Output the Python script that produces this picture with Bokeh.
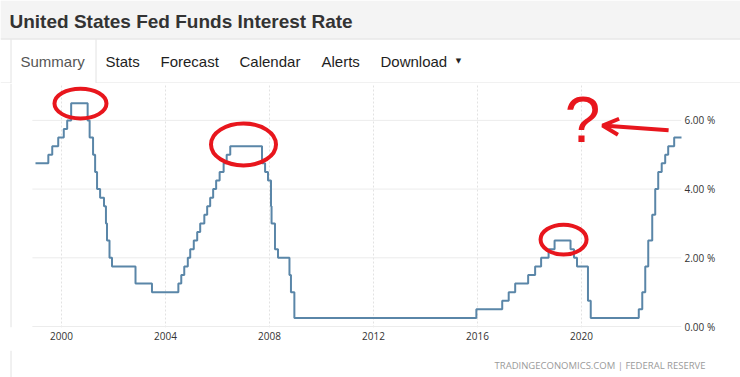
import pandas as pd
from bokeh.plotting import figure
from bokeh.layouts import column
from bokeh.models import (Label, Arrow, OpenHead, FixedTicker, Span,
                          PrintfTickFormatter, Range1d, ColumnDataSource)
from bokeh.embed import file_html
from bokeh.resources import INLINE

# ---------------- data ----------------
change_dates = [
    "1999-01-01", "1999-06-30", "1999-08-24", "1999-11-16", "2000-02-02", "2000-03-21",
    "2000-05-16", "2001-01-03", "2001-01-31", "2001-03-20", "2001-04-18", "2001-05-15",
    "2001-06-27", "2001-08-21", "2001-09-17", "2001-10-02", "2001-11-06", "2001-12-11",
    "2002-11-06", "2003-06-25", "2004-06-30", "2004-08-10", "2004-09-21", "2004-11-10",
    "2004-12-14", "2005-02-02", "2005-03-22", "2005-05-03", "2005-06-30", "2005-08-09",
    "2005-09-20", "2005-11-01", "2005-12-13", "2006-01-31", "2006-03-28", "2006-05-10",
    "2006-06-29", "2007-09-18", "2007-10-31", "2007-12-11", "2008-01-22", "2008-01-30",
    "2008-03-18", "2008-04-30", "2008-10-08", "2008-10-29", "2008-12-16", "2015-12-16",
    "2016-12-14", "2017-03-15", "2017-06-14", "2017-12-13", "2018-03-21", "2018-06-13",
    "2018-09-26", "2018-12-19", "2019-07-31", "2019-09-18", "2019-10-30", "2020-04-01",
    "2020-05-10", "2022-03-16", "2022-05-04", "2022-06-15", "2022-07-27", "2022-09-21",
    "2022-11-02", "2022-12-14", "2023-02-01", "2023-03-22", "2023-05-03", "2023-07-26",
    "2023-11-15",
]
rates = [
    4.75, 5.00, 5.25, 5.50, 5.75, 6.00,
    6.50, 6.00, 5.50, 5.00, 4.50, 4.00,
    3.75, 3.50, 3.00, 2.50, 2.00, 1.75,
    1.25, 1.00, 1.25, 1.50, 1.75, 2.00,
    2.25, 2.50, 2.75, 3.00, 3.25, 3.50,
    3.75, 4.00, 4.25, 4.50, 4.75, 5.00,
    5.25, 4.75, 4.50, 4.25, 3.50, 3.00,
    2.25, 2.00, 1.50, 1.00, 0.25, 0.50,
    0.75, 1.00, 1.25, 1.50, 1.75, 2.00,
    2.25, 2.50, 2.25, 2.00, 1.75, 0.75,
    0.25, 0.50, 1.00, 1.75, 2.50, 3.25,
    4.00, 4.50, 4.75, 5.00, 5.25, 5.50,
    5.50,
]
year_ticks = [2000, 2004, 2008, 2012, 2016, 2020]
rate_ticks = [0, 2, 4, 6]

title_text = "United States Fed Funds Interest Rate"
tab_labels = ["Summary", "Stats", "Forecast", "Calendar", "Alerts", "Download"]
source_text = "TRADINGECONOMICS.COM | FEDERAL RESERVE"

# hand-drawn highlights (data space)
circle_x = [2000.73, 2007.0, 2019.31]
circle_y = [6.49, 5.30, 2.53]
circle_w = [2.0, 2.5, 1.77]
circle_h = [0.87, 1.22, 0.87]

# ---------------- helpers ----------------
def dec_year(s):
    t = pd.Timestamp(s)
    start = pd.Timestamp(t.year, 1, 1)
    end = pd.Timestamp(t.year + 1, 1, 1)
    return t.year + (t - start).days / (end - start).days

xs = [dec_year(d) for d in change_dates]

RED = "#e8161d"
LINE = "#5a86a8"
BORDER = "#e2e2e2"
W = 740


def no_align(f):
    if "frame_align" in f.properties():
        f.frame_align = False
    return f


def bare(h):
    f = figure(width=W, height=h, output_backend="svg", toolbar_location=None,
               x_range=Range1d(0, W), y_range=Range1d(h, 0),
               x_axis_type=None, y_axis_type=None,
               min_border=0, min_border_left=0, min_border_right=0,
               min_border_top=0, min_border_bottom=0)
    f.outline_line_color = None
    f.background_fill_color = "white"
    f.border_fill_color = "white"
    return no_align(f)

# ---------------- header ----------------
H1 = 83
hdr = bare(H1)
hdr.quad(left=[0], right=[W], top=[0], bottom=[39], fill_color="#f4f4f4", line_color=None)
hdr.segment(x0=[0, 10.5, 95.5, 0, 95.5], y0=[38.5, 39, 39, 82.5, 82.5],
            x1=[W, 10.5, 95.5, 10.5, W], y1=[38.5, H1, 82.5, 82.5, 82.5],
            line_color=BORDER, line_width=1)
hdr.add_layout(Label(x=9, y=21, text=title_text, text_font="Liberation Sans",
                     text_font_style="bold", text_font_size="19px", text_color="#333333",
                     text_baseline="middle", text_align="left"))
tab_x = [20, 105, 160, 239, 321, 380]
for i, (lbl, tx) in enumerate(zip(tab_labels, tab_x)):
    hdr.add_layout(Label(x=tx, y=61, text=lbl, text_font="Liberation Sans",
                         text_font_size="15px",
                         text_color="#555555" if i == 0 else "#1e1e1e",
                         text_baseline="middle", text_align="left"))
hdr.add_layout(Label(x=458, y=60, text="\u25BC", text_font="DejaVu Sans",
                     text_font_size="7px", text_color="#222222",
                     text_baseline="middle", text_align="center"))

# ---------------- chart ----------------
H2 = 267
p = figure(width=W, height=H2, output_backend="svg", toolbar_location=None,
           x_range=Range1d(1998.0, 2023.846), y_range=Range1d(-0.029, 7.074),
           y_axis_location="right",
           min_border_left=9, min_border_right=59, min_border_top=0, min_border_bottom=23)
no_align(p)
p.outline_line_color = None
p.background_fill_color = "white"
p.border_fill_color = "white"

p.xgrid.ticker = FixedTicker(ticks=year_ticks)
p.xgrid.grid_line_color = "#e2e2e2"
p.xgrid.grid_line_dash = "2 2"
p.ygrid.grid_line_color = None
p.segment(x0=[1998.88] * len(rate_ticks), y0=rate_ticks,
          x1=[2023.846] * len(rate_ticks), y1=rate_ticks,
          line_color="#ececec", line_width=1)
p.add_layout(Span(location=1998.058, dimension="height", line_color=BORDER, line_width=1))

p.xaxis.ticker = FixedTicker(ticks=year_ticks)
p.yaxis.ticker = FixedTicker(ticks=rate_ticks)
p.yaxis.formatter = PrintfTickFormatter(format="%.2f %%")
for ax in (p.xaxis, p.yaxis):
    ax.axis_line_color = None
    ax.major_tick_line_color = None
    ax.minor_tick_line_color = None
    ax.major_tick_out = 0
    ax.major_tick_in = 0
    ax.minor_tick_out = 0
    ax.minor_tick_in = 0
    ax.major_label_text_font = "Open Sans"
    ax.major_label_text_font_size = "10px"
    ax.major_label_text_color = "#333333"
p.xaxis.major_label_standoff = 4
p.yaxis.major_label_standoff = 3

src = ColumnDataSource(dict(x=xs, y=rates))
p.step("x", "y", source=src, mode="after", line_color=LINE, line_width=2)

p.ellipse(x=circle_x, y=circle_y, width=circle_w, height=circle_h,
          fill_color=None, line_color=RED, line_width=4)
p.add_layout(Label(x=2020.04, y=6.0, text="?", text_font="Liberation Sans",
                   text_font_size="64px", text_color=RED, text_line_height=1.0,
                   text_baseline="middle", text_align="center"))
p.add_layout(Arrow(end=OpenHead(size=16, line_color=RED, line_width=4),
                   x_start=2023.35, y_start=5.71, x_end=2020.81, y_end=5.85,
                   line_color=RED, line_width=4))

# ---------------- footer ----------------
H3 = 27
ftr = bare(H3)
ftr.segment(x0=[10.5], y0=[0], x1=[10.5], y1=[H3], line_color=BORDER, line_width=1)
ftr.add_layout(Label(x=705, y=15, text=source_text, text_font="Open Sans",
                     text_font_size="9.5px", text_color="#9a9a9a",
                     text_baseline="middle", text_align="right"))

layout = column(hdr, p, ftr, spacing=0)
open("out.html", "w").write(file_html(layout, INLINE))
